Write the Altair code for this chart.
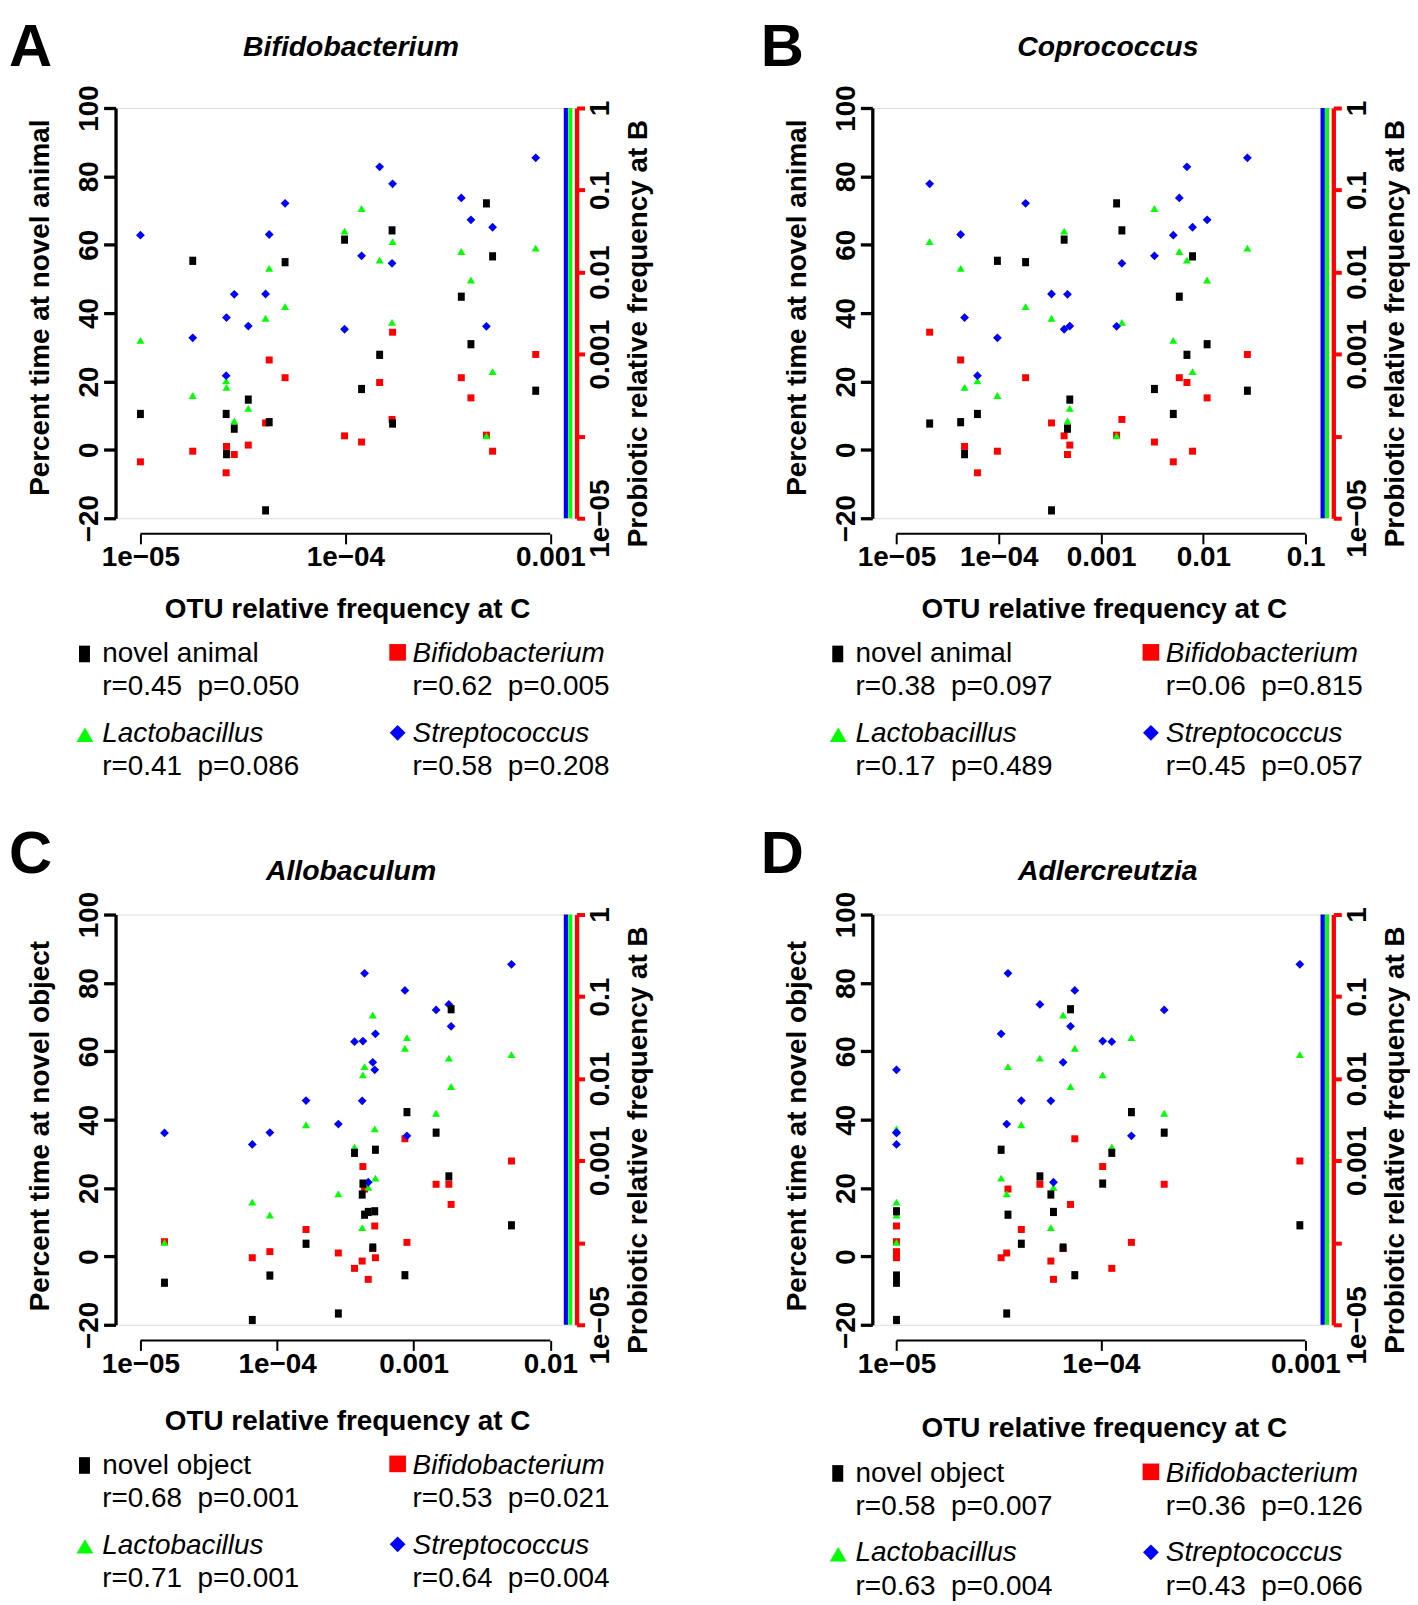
import altair as alt
import pandas as pd

FONT = "Liberation Sans"

# ---- values (19 animals, same order in every list) ----
novel_animal = [10.5, 55.3, -1.25, 10.5, 6.2, 14.7, -17.7, 8.1, 54.9, 61.5,
                17.8, 27.8, 64.2, 7.7, 44.8, 30.9, 72.1, 56.6, 17.3]
novel_object = [30.3, -18.6, -16.7, 13.0, 18.1, -5.6, 3.7, 21.3, 36.2, 42.2,
                2.6, 12.2, 13.2, -5.5, 23.4, 72.3, -7.7, 31.2, 9.1]

# probiotic relative frequency at B
bifido_at_B = [4.87e-5, 6.56e-5, 7.50e-5, 3.58e-5, 5.98e-5, 7.79e-5, 1.45e-4, 8.49e-4, 5.16e-4, 1.01e-4,
               8.49e-5, 4.51e-4, 1.60e-4, 1.85e-3, 5.16e-4, 2.93e-4, 1.03e-4, 6.56e-5, 9.91e-4]
lacto_at_B = [1.47e-3, 3.13e-4, 3.94e-4, 4.73e-4, 1.53e-4, 2.18e-4, 2.74e-3, 1.11e-2, 3.79e-3, 3.16e-2,
              5.96e-2, 1.40e-2, 2.44e-3, 2.35e-2, 1.78e-2, 8.02e-3, 1.01e-4, 6.13e-4, 1.96e-2]
strep_at_B = [2.82e-2, 1.58e-3, 2.79e-3, 5.46e-4, 5.36e-3, 2.20e-3, 5.41e-3, 2.87e-2, 6.88e-2, 2.01e-3,
              1.58e-2, 0.192, 1.28e-2, 0.119, 8.02e-2, 4.34e-2, 2.18e-3, 3.52e-2, 0.247]

# OTU relative frequency at C, one list per genus
otu_bifidobacterium = [1.00e-5, 1.80e-5, 2.63e-5, 2.62e-5, 2.87e-5, 3.36e-5, 4.08e-5, 4.25e-5, 5.08e-5, 9.91e-5,
                       1.20e-4, 1.47e-4, 1.69e-4, 1.70e-4, 3.68e-4, 4.10e-4, 4.88e-4, 5.23e-4, 8.49e-4]
otu_coprococcus = [5.09e-3, 9.70e-5, 4.63e-5, 6.19e-5, 4.70e-4, 4.95e-4, 3.28e-4, 4.24e-5, 1.83e-4, 4.36e-4,
                   3.33e-3, 6.92e-3, 1.60e-3, 2.11e-5, 5.83e-3, 1.09e-2, 1.42e-3, 7.85e-3, 2.70e-2]
otu_allobaculum = [3.69e-4, 6.59e-5, 2.81e-4, 4.65e-4, 4.20e-4, 8.86e-5, 1.63e-4, 4.25e-4, 1.46e-3, 8.93e-4,
                   5.02e-4, 4.37e-4, 5.19e-4, 8.63e-4, 1.81e-3, 1.88e-3, 1.50e-5, 5.25e-4, 5.20e-3]
otu_adlercreutzia = [1.13e-4, 1.00e-5, 3.46e-5, 5.86e-5, 5.69e-5, 1.00e-5, 4.08e-5, 1.02e-4, 2.04e-4, 1.41e-4,
                     6.53e-5, 3.51e-5, 1.00e-5, 7.45e-5, 5.03e-5, 7.10e-5, 1.00e-5, 3.25e-5, 9.40e-4]

series_names = ["Bifidobacterium", "Lactobacillus", "Streptococcus"]
series_colors = ["#ff0000", "#00ff00", "#0000ff"]

stats_A = ["r=0.45  p=0.050", "r=0.62  p=0.005", "r=0.41  p=0.086", "r=0.58  p=0.208"]
stats_B = ["r=0.38  p=0.097", "r=0.06  p=0.815", "r=0.17  p=0.489", "r=0.45  p=0.057"]
stats_C = ["r=0.68  p=0.001", "r=0.53  p=0.021", "r=0.71  p=0.001", "r=0.64  p=0.004"]
stats_D = ["r=0.58  p=0.007", "r=0.36  p=0.126", "r=0.63  p=0.004", "r=0.43  p=0.066"]

left_ticks = [-20, 0, 20, 40, 60, 80, 100]
right_ticks = [1e-5, 1e-4, 1e-3, 1e-2, 1e-1, 1]
xticks_A = [1e-5, 1e-4, 1e-3]
xticks_B = [1e-5, 1e-4, 1e-3, 1e-2, 1e-1]
xticks_C = [1e-5, 1e-4, 1e-3, 1e-2]
xticks_D = [1e-5, 1e-4, 1e-3]

# ---- layout ----
W, H = 463, 412
ONE = pd.DataFrame({"k": [0]})
BLACK_PT = "M-0.84,-1H0.84V1H-0.84Z"
BLACK_KEY = "M-0.66,-1H0.66V1H-0.66Z"

XLAB = ("datum.value < 3e-5 ? '1e\u221205' : datum.value < 3e-4 ? '1e\u221204' : "
        "datum.value < 3e-3 ? '0.001' : datum.value < 3e-2 ? '0.01' : datum.value < 0.3 ? '0.1' : '1'")
RLAB = ("datum.value < 3e-5 ? '1e\u221205' : datum.value < 3e-4 ? '' : "
        "datum.value < 3e-3 ? '0.001' : datum.value < 3e-2 ? '0.01' : datum.value < 0.3 ? '0.1' : '1'")


def nb(s):
    # keep the double space visible in SVG
    return s.replace("  ", "\u00a0 ")


def txt(s, x, y, size=28, weight="normal", style="normal", align="left"):
    return alt.Chart(ONE).mark_text(
        text=s, font=FONT, fontSize=size, fontWeight=weight, fontStyle=style,
        align=align, baseline="alphabetic", color="black"
    ).encode(x=alt.value(x), y=alt.value(y))


def key(shape, color, x, y, size=279):
    return alt.Chart(ONE).mark_point(
        shape=shape, filled=True, opacity=1, size=size, color=color, strokeWidth=0
    ).encode(x=alt.value(x), y=alt.value(y))


def vbar(color, x, width):
    return alt.Chart(ONE).mark_rule(color=color, strokeWidth=width).encode(
        x=alt.value(x), y=alt.value(0), y2=alt.value(H))


def panel(letter, genus, otu, behav, behav_label, stats, xticks, px1e5, decade, ytitle,
          letter_x, letter_y, title_y, ytitle_y, bot_dy, leg_dx, top_frame=False):
    lo = -5 - px1e5 / decade
    hi = -5 + (W - px1e5) / decade
    xscale = alt.Scale(type="log", domain=[10 ** lo, 10 ** hi], nice=False, zero=False)
    xaxis = alt.Axis(
        values=xticks, labelExpr=XLAB, offset=15.7, domain=False, grid=False,
        tickSize=10, tickWidth=2, tickColor="black",
        labelFont=FONT, labelFontSize=28, labelFontWeight="bold", labelColor="black",
        labelPadding=22, labelBaseline="alphabetic", labelAlign="center",
        labelFlush=False, labelOverlap=False, labelBound=False,
        title="OTU relative frequency at C", titleFont=FONT, titleFontSize=28,
        titleFontWeight="bold", titleColor="black", titleBaseline="alphabetic",
        titleAlign="center", titleX=W / 2 + 1, titleY=84 + bot_dy)

    col_df = pd.DataFrame({
        "otu": otu * 3,
        "freq": bifido_at_B + lacto_at_B + strep_at_B,
        "series": [series_names[0]] * len(otu) + [series_names[1]] * len(otu) + [series_names[2]] * len(otu),
    })
    colored = alt.Chart(col_df).mark_point(filled=True, opacity=1, strokeWidth=0).encode(
        x=alt.X("otu:Q", scale=xscale, axis=xaxis),
        y=alt.Y("freq:Q", scale=alt.Scale(type="log", domain=[1e-5, 1], nice=False),
                axis=alt.Axis(
                    orient="right", values=right_ticks, labelExpr=RLAB, grid=False,
                    domainColor="#ff0000", domainWidth=4.3, tickColor="#ff0000", tickWidth=4, tickSize=8,
                    labelFont=FONT, labelFontSize=28, labelFontWeight="bold", labelColor="black",
                    labelAngle=270, labelAlign="center", labelBaseline="alphabetic", labelPadding=24,
                    labelFlush=False, labelOverlap=False, labelBound=False,
                    title="Probiotic relative frequency at B", titleFont=FONT, titleFontSize=28,
                    titleFontWeight="bold", titleColor="black", titleAngle=270, titleAlign="center",
                    titleBaseline="alphabetic", titleX=70, titleY=226)),
        color=alt.Color("series:N", scale=alt.Scale(domain=series_names, range=series_colors), legend=None),
        shape=alt.Shape("series:N", scale=alt.Scale(domain=series_names, range=["square", "triangle-up", "diamond"]), legend=None),
        size=alt.Size("series:N", scale=alt.Scale(domain=series_names, range=[49, 78, 32]), legend=None),
    )

    black = alt.Chart(pd.DataFrame({"otu": otu, "score": behav})).mark_point(
        filled=True, opacity=1, shape=BLACK_PT, size=68, color="black", strokeWidth=0
    ).encode(
        x=alt.X("otu:Q", scale=xscale, axis=xaxis),
        y=alt.Y("score:Q", scale=alt.Scale(domain=[-20, 100], nice=False, zero=False), axis=alt.Axis(
            orient="left", values=left_ticks, grid=False, domainColor="black", domainWidth=3.3,
            tickSize=12, tickWidth=3.3, tickColor="black",
            labelFont=FONT, labelFontSize=28, labelFontWeight="bold", labelColor="black",
            labelAngle=270, labelAlign="center", labelBaseline="alphabetic", labelPadding=6,
            labelFlush=False, labelOverlap=False, labelBound=False,
            title=ytitle, titleFont=FONT, titleFontSize=28, titleFontWeight="bold", titleColor="black",
            titleAngle=270, titleAlign="center", titleBaseline="alphabetic", titleX=-67, titleY=ytitle_y)),
    )

    baseline = alt.Chart(pd.DataFrame({"otu": [xticks[0]], "b": [xticks[-1]]})).mark_rule(
        color="black", strokeWidth=2
    ).encode(x=alt.X("otu:Q", scale=xscale, axis=xaxis), x2="b:Q", y=alt.value(H + 15.7))

    lx_m, lx_t = -31.2 + leg_dx, -13.3 + leg_dx
    rx_m, rx_t = 283.3 + leg_dx, 298.3 + leg_dx
    y1, y2, y3, y4 = H + 144.7 + bot_dy, H + 178 + bot_dy, H + 224.7 + bot_dy, H + 258 + bot_dy

    layers = [
        vbar("#0000ff", W - 10.7, 4.3),
        vbar("#00ff00", W - 6.3, 4.0),
        colored,
        black,
        baseline,
        txt(letter, letter_x, letter_y, size=60, weight="bold"),
        txt(genus, W / 2 + 5, title_y, size=28.5, weight="bold", style="italic", align="center"),
        key(BLACK_KEY, "black", lx_m, H + 136.3 + bot_dy),
        txt(behav_label, lx_t, y1),
        txt(nb(stats[0]), lx_t, y2),
        key("square", "#ff0000", rx_m, H + 134.7 + bot_dy),
        txt(series_names[0], rx_t, y1, style="italic"),
        txt(nb(stats[1]), rx_t, y2),
        key("triangle-up", "#00ff00", lx_m + 0.5, H + 217.5 + bot_dy),
        txt(series_names[1], lx_t, y3, style="italic"),
        txt(nb(stats[2]), lx_t, y4),
        key("diamond", "#0000ff", rx_m, H + 215.5 + bot_dy, size=250),
        txt(series_names[2], rx_t, y3, style="italic"),
        txt(nb(stats[3]), rx_t, y4),
    ]
    if top_frame:
        # invisible frame marker that fixes the top-left corner of the page layout
        layers.append(alt.Chart(ONE).mark_rule(strokeWidth=1, strokeOpacity=0, color="white").encode(
            x=alt.value(-60), y=alt.value(-96.5), y2=alt.value(-70)))
    return alt.layer(*layers).resolve_scale(y="independent").properties(width=W, height=H)


pA = panel("A", "Bifidobacterium", otu_bifidobacterium, novel_animal, "novel animal", stats_A, xticks_A,
           25, 205.8, "Percent time at novel animal", -107, -42, -52, 200, 0, 0, top_frame=True)
pB = panel("B", "Coprococcus", otu_coprococcus, novel_animal, "novel animal", stats_B, xticks_B,
           24.3, 102.7, "Percent time at novel animal", -112, -42, -52, 200, 0, -3.5)
pC = panel("C", "Allobaculum", otu_allobaculum, novel_object, "novel object", stats_C, xticks_C,
           25, 137.2, "Percent time at novel object", -107, -42, -35, 212, 5, 0)
pD = panel("D", "Adlercreutzia", otu_adlercreutzia, novel_object, "novel object", stats_D, xticks_D,
           24.3, 205.3, "Percent time at novel object", -112, -42, -35, 212, 13, -3.5)

chart = alt.concat(
    pA, pB, pC, pD, columns=2, spacing={"row": 398, "column": 297}, bounds="flush",
    padding={"left": 0, "top": 0, "right": 0, "bottom": 0},
).configure_view(stroke=None).configure(font=FONT)

chart.save("out.html", embed_options={"renderer": "svg", "actions": False})
